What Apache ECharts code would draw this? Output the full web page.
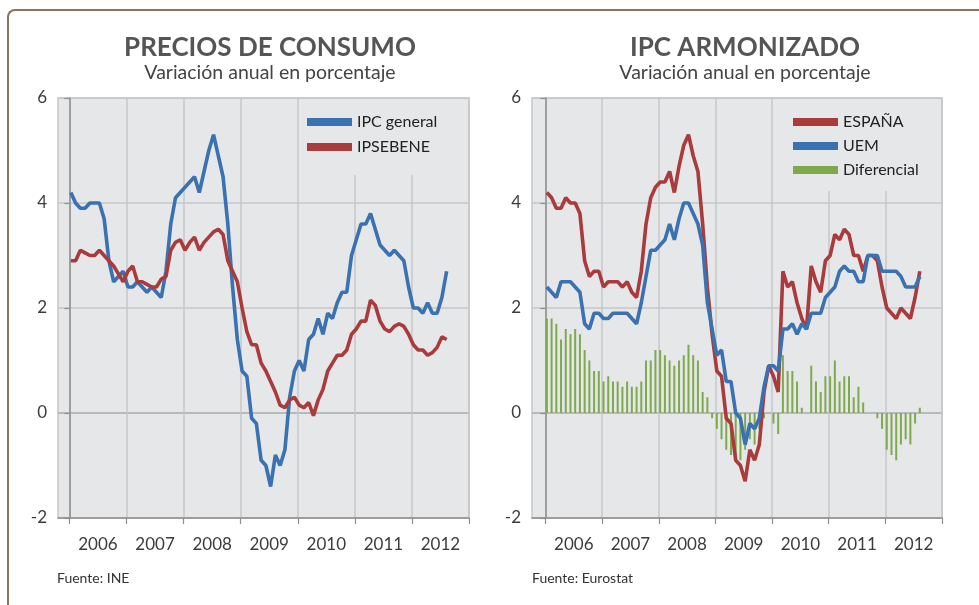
<!DOCTYPE html>
<html>
<head>
<meta charset="utf-8">
<script src="https://cdn.jsdelivr.net/npm/echarts@6/dist/echarts.min.js"></script>
<style>
html,body{margin:0;padding:0;background:#fff;overflow:hidden;}
#frame{position:absolute;left:7px;top:9px;width:1100px;height:700px;border-top:2px solid #8b7459;border-left:2px solid #8b7459;border-top-left-radius:8px;}
#main{position:absolute;left:0;top:0;width:979px;height:605px;}
</style>
</head>
<body>
<div id="frame"></div>
<div id="main"></div>
<script>
// monthly data, Jan 2006 - Aug 2012
var years = ['2006', '2007', '2008', '2009', '2010', '2011', '2012'];

var ipcGeneral = [
  4.2, 4.0, 3.9, 3.9, 4.0, 4.0, 4.0, 3.7, 2.9, 2.5, 2.6, 2.7,
  2.4, 2.4, 2.5, 2.4, 2.3, 2.4, 2.3, 2.2, 2.7, 3.6, 4.1, 4.2,
  4.3, 4.4, 4.5, 4.2, 4.6, 5.0, 5.3, 4.9, 4.5, 3.6, 2.4, 1.4,
  0.8, 0.7, -0.1, -0.2, -0.9, -1.0, -1.4, -0.8, -1.0, -0.7, 0.3, 0.8,
  1.0, 0.8, 1.4, 1.5, 1.8, 1.5, 1.9, 1.8, 2.1, 2.3, 2.3, 3.0,
  3.3, 3.6, 3.6, 3.8, 3.5, 3.2, 3.1, 3.0, 3.1, 3.0, 2.9, 2.4,
  2.0, 2.0, 1.9, 2.1, 1.9, 1.9, 2.2, 2.7
];
var ipsebene = [
  2.9, 2.9, 3.1, 3.05, 3.0, 3.0, 3.1, 3.0, 2.9, 2.8, 2.65, 2.5,
  2.7, 2.8, 2.5, 2.5, 2.45, 2.4, 2.4, 2.55, 2.6, 3.1, 3.25, 3.3,
  3.1, 3.25, 3.35, 3.1, 3.25, 3.35, 3.45, 3.5, 3.4, 2.9, 2.7, 2.5,
  2.0, 1.55, 1.3, 1.3, 0.95, 0.8, 0.6, 0.4, 0.15, 0.1, 0.25, 0.3,
  0.15, 0.1, 0.2, -0.05, 0.25, 0.45, 0.8, 0.95, 1.1, 1.1, 1.2, 1.5,
  1.6, 1.75, 1.75, 2.15, 2.05, 1.75, 1.6, 1.55, 1.65, 1.7, 1.65, 1.5,
  1.3, 1.2, 1.2, 1.1, 1.15, 1.25, 1.45, 1.4
];

var espana = [
  4.2, 4.1, 3.9, 3.9, 4.1, 4.0, 4.0, 3.8, 2.9, 2.6, 2.7, 2.7,
  2.4, 2.5, 2.5, 2.5, 2.4, 2.5, 2.3, 2.2, 2.7, 3.6, 4.1, 4.3,
  4.4, 4.4, 4.6, 4.2, 4.7, 5.1, 5.3, 4.9, 4.6, 3.6, 2.4, 1.5,
  0.8, 0.7, -0.1, -0.2, -0.9, -1.0, -1.3, -0.7, -0.9, -0.6, 0.4, 0.9,
  0.7, 0.4, 2.7, 2.4, 2.5, 2.1, 1.8, 1.6, 2.8, 2.5, 2.3, 2.9,
  3.0, 3.4, 3.3, 3.5, 3.4, 3.0, 3.0, 2.7, 3.0, 3.0, 2.9, 2.4,
  2.0, 1.9, 1.8, 2.0, 1.9, 1.8, 2.2, 2.7
];
var uem = [
  2.4, 2.3, 2.2, 2.5, 2.5, 2.5, 2.4, 2.3, 1.7, 1.6, 1.9, 1.9,
  1.8, 1.8, 1.9, 1.9, 1.9, 1.9, 1.8, 1.7, 2.1, 2.6, 3.1, 3.1,
  3.2, 3.3, 3.6, 3.3, 3.7, 4.0, 4.0, 3.8, 3.6, 3.2, 2.1, 1.6,
  1.1, 1.2, 0.6, 0.6, 0.0, -0.1, -0.6, -0.2, -0.3, -0.1, 0.5, 0.9,
  0.9, 0.8, 1.6, 1.6, 1.7, 1.5, 1.7, 1.6, 1.9, 1.9, 1.9, 2.2,
  2.3, 2.4, 2.7, 2.8, 2.7, 2.7, 2.5, 2.5, 3.0, 3.0, 3.0, 2.7,
  2.7, 2.7, 2.7, 2.6, 2.4, 2.4, 2.4, 2.6
];
var diferencial = [
  1.8, 1.8, 1.7, 1.4, 1.6, 1.5, 1.6, 1.5, 1.2, 1.0, 0.8, 0.8,
  0.6, 0.7, 0.6, 0.6, 0.5, 0.6, 0.5, 0.5, 0.6, 1.0, 1.0, 1.2,
  1.2, 1.1, 1.0, 0.9, 1.0, 1.1, 1.3, 1.1, 1.0, 0.4, 0.3, -0.1,
  -0.3, -0.5, -0.7, -0.8, -0.9, -0.9, -0.7, -0.5, -0.6, -0.3, -0.1, 0.0,
  -0.2, -0.4, 1.1, 0.8, 0.8, 0.6, 0.1, 0.0, 0.9, 0.6, 0.4, 0.7,
  0.7, 1.0, 0.6, 0.7, 0.7, 0.3, 0.5, 0.2, 0.0, 0.0, -0.1, -0.3,
  -0.7, -0.8, -0.9, -0.6, -0.5, -0.6, -0.2, 0.1
];

var FONT = 'Lato';
var BLUE = '#3a72b1', RED = '#a93b3c', GREEN = '#7fa94d';
var PLOT_BG = '#e6e7e9', GRID_C = '#c6c7c9';

function toXY(arr) {
  return arr.map(function (v, i) { return [i + 0.3, v]; });
}
var yearTicks = years.map(function (y, k) { return k * 12; }).concat([years.length * 12]);
var yearLabelPos = years.map(function (y, k) { return k * 12 + 6; });

function makeX(idx, min) {
  return {
    type: 'value', gridIndex: idx, min: min, max: years.length * 12,
    axisLine: { onZero: false, lineStyle: { color: '#8e8e8e', width: 1.5 } },
    axisTick: { customValues: yearTicks, length: 6, lineStyle: { color: '#8e8e8e', width: 1.2 } },
    axisLabel: {
      customValues: yearLabelPos, margin: 18, color: '#3c3c3c', fontSize: 17, fontFamily: FONT,
      formatter: function (v) { return years[Math.round((v - 6) / 12)]; }
    },
    splitLine: { show: true, lineStyle: { color: GRID_C, width: 1.5 } }
  };
}
function makeY(idx) {
  return {
    type: 'value', gridIndex: idx, min: -2, max: 6, interval: 2,
    axisLine: { show: true, lineStyle: { color: '#8e8e8e', width: 1.5 } },
    axisTick: { show: true, length: 5, lineStyle: { color: '#8e8e8e', width: 1.2 } },
    axisLabel: { color: '#3c3c3c', fontSize: 17, fontFamily: FONT, margin: 11 },
    splitLine: { lineStyle: { color: [GRID_C, '#a9aaac', GRID_C, GRID_C, GRID_C], width: 1.5 } }
  };
}
function lineSeries(name, data, color, idx) {
  return {
    name: name, type: 'line', xAxisIndex: idx, yAxisIndex: idx,
    data: toXY(data), color: color, showSymbol: false, symbol: 'none',
    lineStyle: { width: 3.6, color: color }, z: 3
  };
}
function titleAt(x, text) {
  return {
    text: text, subtext: 'Variación anual en porcentaje',
    left: x, top: 35, textAlign: 'center', itemGap: 2, padding: 0,
    textStyle: { fontFamily: FONT, fontWeight: 'bold', fontSize: 26, color: '#555' },
    subtextStyle: { fontFamily: FONT, fontSize: 19.5, color: '#444' }
  };
}

var chart = echarts.init(document.getElementById('main'));
chart.setOption({
  animation: false,
  backgroundColor: 'transparent',
  title: [titleAt(270, 'PRECIOS DE CONSUMO'), titleAt(745, 'IPC ARMONIZADO')],
  grid: [
    { left: 58, top: 98, width: 411, height: 420, show: true, backgroundColor: PLOT_BG, borderColor: GRID_C, borderWidth: 1.5 },
    { left: 532, top: 98, width: 410, height: 420, show: true, backgroundColor: PLOT_BG, borderColor: GRID_C, borderWidth: 1.5 }
  ],
  xAxis: [makeX(0, -2.4), makeX(1, -2.85)],
  yAxis: [makeY(0), makeY(1)],
  legend: [
    {
      data: ['IPC general', 'IPSEBENE'], orient: 'vertical', left: 307, top: 114,
      itemWidth: 45, itemHeight: 8, itemGap: 9, icon: 'rect', padding: 0,
      textStyle: { fontFamily: FONT, fontSize: 16, color: '#222', lineHeight: 16 }
    },
    {
      data: ['ESPAÑA', 'UEM', 'Diferencial'], orient: 'vertical', left: 793, top: 114,
      itemWidth: 45, itemHeight: 8, itemGap: 8, icon: 'rect', padding: 0,
      textStyle: { fontFamily: FONT, fontSize: 16, color: '#222', lineHeight: 16 }
    }
  ],
  graphic: [
    { type: 'rect', z: 1, shape: { x: 300, y: 99, width: 168, height: 76 }, style: { fill: PLOT_BG } },
    { type: 'rect', z: 1, shape: { x: 775, y: 99, width: 166, height: 92 }, style: { fill: PLOT_BG } },
    { type: 'text', left: 57, top: 571, style: { text: 'Fuente: INE', font: '14px Lato', fill: '#333' } },
    { type: 'text', left: 532, top: 571, style: { text: 'Fuente: Eurostat', font: '14px Lato', fill: '#333' } }
  ],
  series: [
    lineSeries('IPC general', ipcGeneral, BLUE, 0),
    lineSeries('IPSEBENE', ipsebene, RED, 0),
    {
      name: 'Diferencial', type: 'bar', xAxisIndex: 1, yAxisIndex: 1,
      data: toXY(diferencial), color: GREEN, barWidth: 2, z: 2
    },
    lineSeries('ESPAÑA', espana, RED, 1),
    lineSeries('UEM', uem, BLUE, 1)
  ]
});
</script>
</body>
</html>
